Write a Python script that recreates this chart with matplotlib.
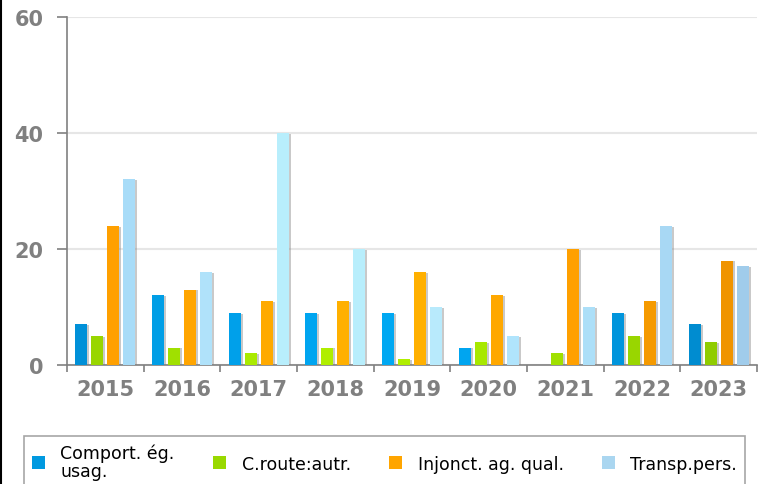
import matplotlib.pyplot as plt
import numpy as np
from matplotlib.patches import Patch
from matplotlib.lines import Line2D

years = ['2015', '2016', '2017', '2018', '2019', '2020', '2021', '2022', '2023']
series_names = ['Comport. ég.\nusag.', 'C.route:autr.', 'Injonct. ag. qual.', 'Transp.pers.']
comport = [7, 12, 9, 9, 9, 3, 0, 9, 7]
croute = [5, 3, 2, 3, 1, 4, 2, 5, 4]
injonct = [24, 13, 11, 11, 16, 12, 20, 11, 18]
transp = [32, 16, 40, 20, 10, 5, 10, 24, 17]

# legend colours and the slightly shaded per-year colours of the bars
colors = ['#0099e0', '#99d900', '#ffa500', '#aad6f0']
bar_colors = [
    ['#0090d8', '#009ee6', '#00a0ea', '#00a5f0', '#00a8f2', '#00a5f0', '#009ce4', '#0095dc', '#008cd0'],
    ['#99d600', '#a0e000', '#aaea00', '#b0ee00', '#b0ee00', '#a8e800', '#a0e000', '#99d600', '#90cc00'],
    ['#ffa000', '#ffa500', '#ffaa00', '#ffb000', '#ffb000', '#ffa800', '#ffa000', '#f59a00', '#f09400'],
    ['#a8dcf8', '#b0e2fa', '#b8eefc', '#b8eefc', '#b8eafc', '#b0e4fc', '#acdff8', '#a8d8f4', '#a0cceb'],
]

fig = plt.figure(figsize=(7.63, 4.85), dpi=100)
ax = fig.add_axes([67 / 763, 1 - 366 / 485, 690 / 763, 348 / 485])

x = np.arange(len(years))
step = 0.209
width = 0.157
all_series = [comport, croute, injonct, transp]
for i, vals in enumerate(all_series):
    pos = x + (i - 1.5) * step
    # small drop shadow
    ax.bar(pos + 0.026, np.array(vals) - 0.15, width, color='#888888', alpha=0.45,
           zorder=2, linewidth=0)
    ax.bar(pos, vals, width, color=bar_colors[i], zorder=3, linewidth=0)

ax.set_xlim(-0.5, len(years) - 0.5)
ax.set_ylim(0, 60)
ax.set_yticks([0, 20, 40, 60])
ax.set_xticks(x)
ax.set_xticklabels(years)
ax.set_xticks(np.arange(-0.5, len(years)), minor=True)

ax.grid(axis='y', color='#e6e6e6', linewidth=1.5, zorder=0)
ax.set_axisbelow(True)
for s in ['top', 'right']:
    ax.spines[s].set_visible(False)
for s in ['left', 'bottom']:
    ax.spines[s].set_color('#808080')
    ax.spines[s].set_linewidth(1.2)

ax.tick_params(axis='y', length=7, width=1.2, color='#808080', pad=10,
               labelsize=15, labelcolor='#808080')
ax.tick_params(axis='x', which='major', length=0, pad=10, labelsize=15,
               labelcolor='#808080')
ax.tick_params(axis='x', which='minor', length=5, width=1.2, color='#808080')
for lab in ax.get_xticklabels() + ax.get_yticklabels():
    lab.set_fontweight('bold')

handles = [Patch(facecolor=c, edgecolor='none') for c in colors]
leg = fig.legend(handles, series_names, loc='upper left',
                 bbox_to_anchor=(24 / 763, 1 - 437 / 485), ncol=4, fontsize=12.5,
                 frameon=True, fancybox=False, edgecolor='#909090',
                 handlelength=0.75, handleheight=0.75, handletextpad=0.9,
                 columnspacing=2.2, borderpad=0.45, borderaxespad=0)
leg.get_frame().set_linewidth(1.2)
for t in leg.get_texts():
    t.set_linespacing(0.95)

fig.add_artist(Line2D([1.5 / 763, 1.5 / 763], [0, 1], color='black', linewidth=1.5))

fig.savefig('out.png', dpi=100)
